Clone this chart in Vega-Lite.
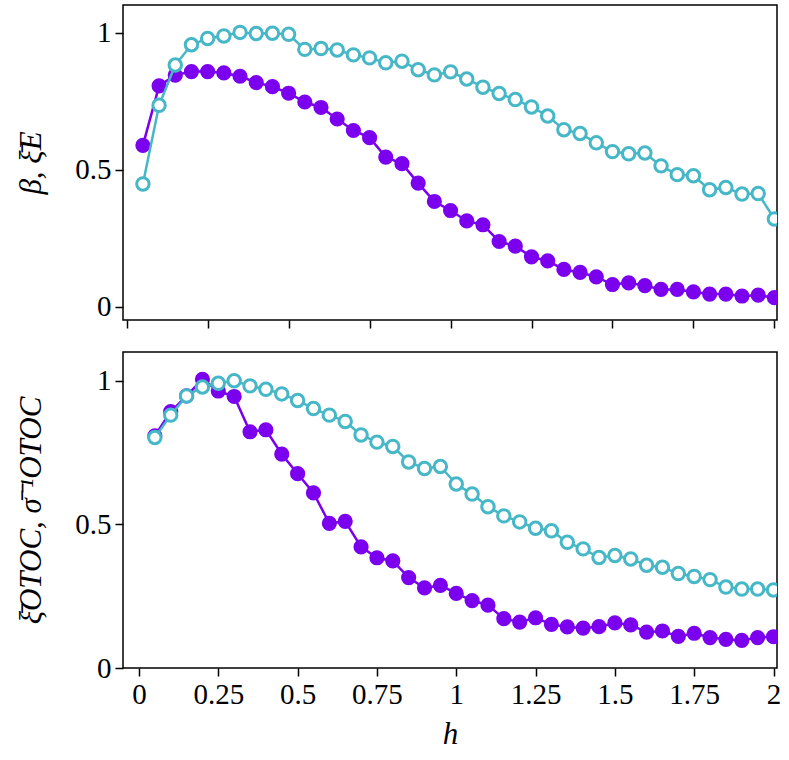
{
  "$schema": "https://vega.github.io/schema/vega-lite/v6.json",
  "padding": {"left": 14, "top": 4, "right": 5, "bottom": 5},
  "background": "white",
  "config": {
    "font": "'Liberation Serif', serif",
    "view": {"stroke": "black", "strokeWidth": 1.5},
    "axis": {
      "domain": false,
      "grid": false,
      "ticks": true,
      "tickColor": "black",
      "tickWidth": 1.5,
      "tickSize": 8,
      "labelFont": "'Liberation Serif', serif",
      "labelFontSize": 29,
      "labelColor": "black",
      "labelPadding": 4,
      "titleFont": "'Liberation Serif', serif",
      "titleFontStyle": "italic",
      "titleFontWeight": "normal",
      "titleFontSize": 31,
      "titleColor": "black"
    }
  },
  "spacing": 21,
  "datasets": {
    "top": [
      {"h": 0.05, "beta": 0.589, "xi": 0.448},
      {"h": 0.10, "beta": 0.806, "xi": 0.735},
      {"h": 0.15, "beta": 0.845, "xi": 0.882},
      {"h": 0.20, "beta": 0.858, "xi": 0.956},
      {"h": 0.25, "beta": 0.858, "xi": 0.979},
      {"h": 0.30, "beta": 0.853, "xi": 0.988},
      {"h": 0.35, "beta": 0.841, "xi": 1.001},
      {"h": 0.40, "beta": 0.818, "xi": 0.997},
      {"h": 0.45, "beta": 0.803, "xi": 0.998},
      {"h": 0.50, "beta": 0.779, "xi": 0.994},
      {"h": 0.55, "beta": 0.747, "xi": 0.939},
      {"h": 0.60, "beta": 0.727, "xi": 0.942},
      {"h": 0.65, "beta": 0.685, "xi": 0.937},
      {"h": 0.70, "beta": 0.643, "xi": 0.919},
      {"h": 0.75, "beta": 0.617, "xi": 0.908},
      {"h": 0.80, "beta": 0.546, "xi": 0.890},
      {"h": 0.85, "beta": 0.522, "xi": 0.896},
      {"h": 0.90, "beta": 0.451, "xi": 0.865},
      {"h": 0.95, "beta": 0.384, "xi": 0.846},
      {"h": 1.00, "beta": 0.351, "xi": 0.857},
      {"h": 1.05, "beta": 0.313, "xi": 0.831},
      {"h": 1.10, "beta": 0.299, "xi": 0.801},
      {"h": 1.15, "beta": 0.238, "xi": 0.778},
      {"h": 1.20, "beta": 0.221, "xi": 0.756},
      {"h": 1.25, "beta": 0.182, "xi": 0.729},
      {"h": 1.30, "beta": 0.167, "xi": 0.696},
      {"h": 1.35, "beta": 0.136, "xi": 0.646},
      {"h": 1.40, "beta": 0.125, "xi": 0.632},
      {"h": 1.45, "beta": 0.109, "xi": 0.598},
      {"h": 1.50, "beta": 0.081, "xi": 0.566},
      {"h": 1.55, "beta": 0.087, "xi": 0.558},
      {"h": 1.60, "beta": 0.077, "xi": 0.561},
      {"h": 1.65, "beta": 0.063, "xi": 0.514},
      {"h": 1.70, "beta": 0.063, "xi": 0.482},
      {"h": 1.75, "beta": 0.054, "xi": 0.478},
      {"h": 1.80, "beta": 0.046, "xi": 0.427},
      {"h": 1.85, "beta": 0.046, "xi": 0.435},
      {"h": 1.90, "beta": 0.039, "xi": 0.411},
      {"h": 1.95, "beta": 0.042, "xi": 0.413},
      {"h": 2.00, "beta": 0.033, "xi": 0.320}
    ],
    "bottom": [
      {"h": 0.05, "xi": 0.809, "sinv": 0.803},
      {"h": 0.10, "xi": 0.893, "sinv": 0.881},
      {"h": 0.15, "xi": 0.948, "sinv": 0.948},
      {"h": 0.20, "xi": 1.006, "sinv": 0.979},
      {"h": 0.25, "xi": 0.965, "sinv": 0.992},
      {"h": 0.30, "xi": 0.946, "sinv": 1.001},
      {"h": 0.35, "xi": 0.823, "sinv": 0.983},
      {"h": 0.40, "xi": 0.830, "sinv": 0.971},
      {"h": 0.45, "xi": 0.745, "sinv": 0.955},
      {"h": 0.50, "xi": 0.677, "sinv": 0.932},
      {"h": 0.55, "xi": 0.610, "sinv": 0.904},
      {"h": 0.60, "xi": 0.504, "sinv": 0.881},
      {"h": 0.65, "xi": 0.511, "sinv": 0.859},
      {"h": 0.70, "xi": 0.422, "sinv": 0.812},
      {"h": 0.75, "xi": 0.384, "sinv": 0.787},
      {"h": 0.80, "xi": 0.373, "sinv": 0.772},
      {"h": 0.85, "xi": 0.315, "sinv": 0.718},
      {"h": 0.90, "xi": 0.279, "sinv": 0.695},
      {"h": 0.95, "xi": 0.288, "sinv": 0.702},
      {"h": 1.00, "xi": 0.260, "sinv": 0.641},
      {"h": 1.05, "xi": 0.235, "sinv": 0.606},
      {"h": 1.10, "xi": 0.219, "sinv": 0.562},
      {"h": 1.15, "xi": 0.172, "sinv": 0.530},
      {"h": 1.20, "xi": 0.160, "sinv": 0.509},
      {"h": 1.25, "xi": 0.175, "sinv": 0.487},
      {"h": 1.30, "xi": 0.152, "sinv": 0.478},
      {"h": 1.35, "xi": 0.143, "sinv": 0.438},
      {"h": 1.40, "xi": 0.139, "sinv": 0.415},
      {"h": 1.45, "xi": 0.144, "sinv": 0.385},
      {"h": 1.50, "xi": 0.157, "sinv": 0.392},
      {"h": 1.55, "xi": 0.150, "sinv": 0.380},
      {"h": 1.60, "xi": 0.125, "sinv": 0.358},
      {"h": 1.65, "xi": 0.129, "sinv": 0.351},
      {"h": 1.70, "xi": 0.110, "sinv": 0.329},
      {"h": 1.75, "xi": 0.121, "sinv": 0.319},
      {"h": 1.80, "xi": 0.106, "sinv": 0.308},
      {"h": 1.85, "xi": 0.100, "sinv": 0.282},
      {"h": 1.90, "xi": 0.096, "sinv": 0.275},
      {"h": 1.95, "xi": 0.106, "sinv": 0.275},
      {"h": 2.00, "xi": 0.109, "sinv": 0.272}
    ]
  },
  "resolve": {"scale": {"x": "independent", "y": "independent"}},
  "vconcat": [
    {
      "width": 654,
      "height": 315,
      "data": {"name": "top"},
      "encoding": {
        "x": {
          "field": "h",
          "type": "quantitative",
          "scale": {"domain": [-0.0114, 2.008], "nice": false, "zero": false},
          "axis": {"values": [0, 0.25, 0.5, 0.75, 1, 1.25, 1.5, 1.75, 2], "labels": false, "title": null}
        }
      },
      "layer": [
        {
          "mark": {"type": "line", "color": "#7a00ee", "strokeWidth": 2.5, "clip": true},
          "encoding": {
            "y": {
              "field": "beta",
              "type": "quantitative",
              "scale": {"domain": [-0.0485, 1.101], "nice": false, "zero": false},
              "axis": {"values": [0, 0.5, 1], "labelExpr": "format(datum.value, '~g')", "title": "β,  ξ̄E", "titlePadding": 27}
            }
          }
        },
        {
          "mark": {"type": "point", "shape": "circle", "filled": true, "color": "#7a00ee", "opacity": 1, "size": 230, "clip": true},
          "encoding": {"y": {"field": "beta", "type": "quantitative"}}
        },
        {
          "mark": {"type": "line", "color": "#46b7c6", "strokeWidth": 2.5, "clip": true},
          "encoding": {"y": {"field": "xi", "type": "quantitative"}}
        },
        {
          "mark": {"type": "point", "shape": "circle", "filled": false, "fill": "white", "fillOpacity": 1, "stroke": "#46b7c6", "strokeWidth": 3, "opacity": 1, "size": 155, "clip": true},
          "encoding": {"y": {"field": "xi", "type": "quantitative"}}
        }
      ]
    },
    {
      "width": 654,
      "height": 316,
      "data": {"name": "bottom"},
      "encoding": {
        "x": {
          "field": "h",
          "type": "quantitative",
          "scale": {"domain": [-0.0504, 2.011], "nice": false, "zero": false},
          "axis": {"values": [0, 0.25, 0.5, 0.75, 1, 1.25, 1.5, 1.75, 2], "labelExpr": "format(datum.value, '~g')", "title": "h", "titlePadding": 10}
        }
      },
      "layer": [
        {
          "mark": {"type": "line", "color": "#7a00ee", "strokeWidth": 2.5, "clip": true},
          "encoding": {
            "y": {
              "field": "xi",
              "type": "quantitative",
              "scale": {"domain": [0, 1.101], "nice": false, "zero": false},
              "axis": {"values": [0, 0.5, 1], "labelExpr": "format(datum.value, '~g')", "title": "ξ̄OTOC,  σ̄⁻¹OTOC", "titlePadding": 27}
            }
          }
        },
        {
          "mark": {"type": "point", "shape": "circle", "filled": true, "color": "#7a00ee", "opacity": 1, "size": 230, "clip": true},
          "encoding": {"y": {"field": "xi", "type": "quantitative"}}
        },
        {
          "mark": {"type": "line", "color": "#46b7c6", "strokeWidth": 2.5, "clip": true},
          "encoding": {"y": {"field": "sinv", "type": "quantitative"}}
        },
        {
          "mark": {"type": "point", "shape": "circle", "filled": false, "fill": "white", "fillOpacity": 1, "stroke": "#46b7c6", "strokeWidth": 3, "opacity": 1, "size": 155, "clip": true},
          "encoding": {"y": {"field": "sinv", "type": "quantitative"}}
        }
      ]
    }
  ]
}
